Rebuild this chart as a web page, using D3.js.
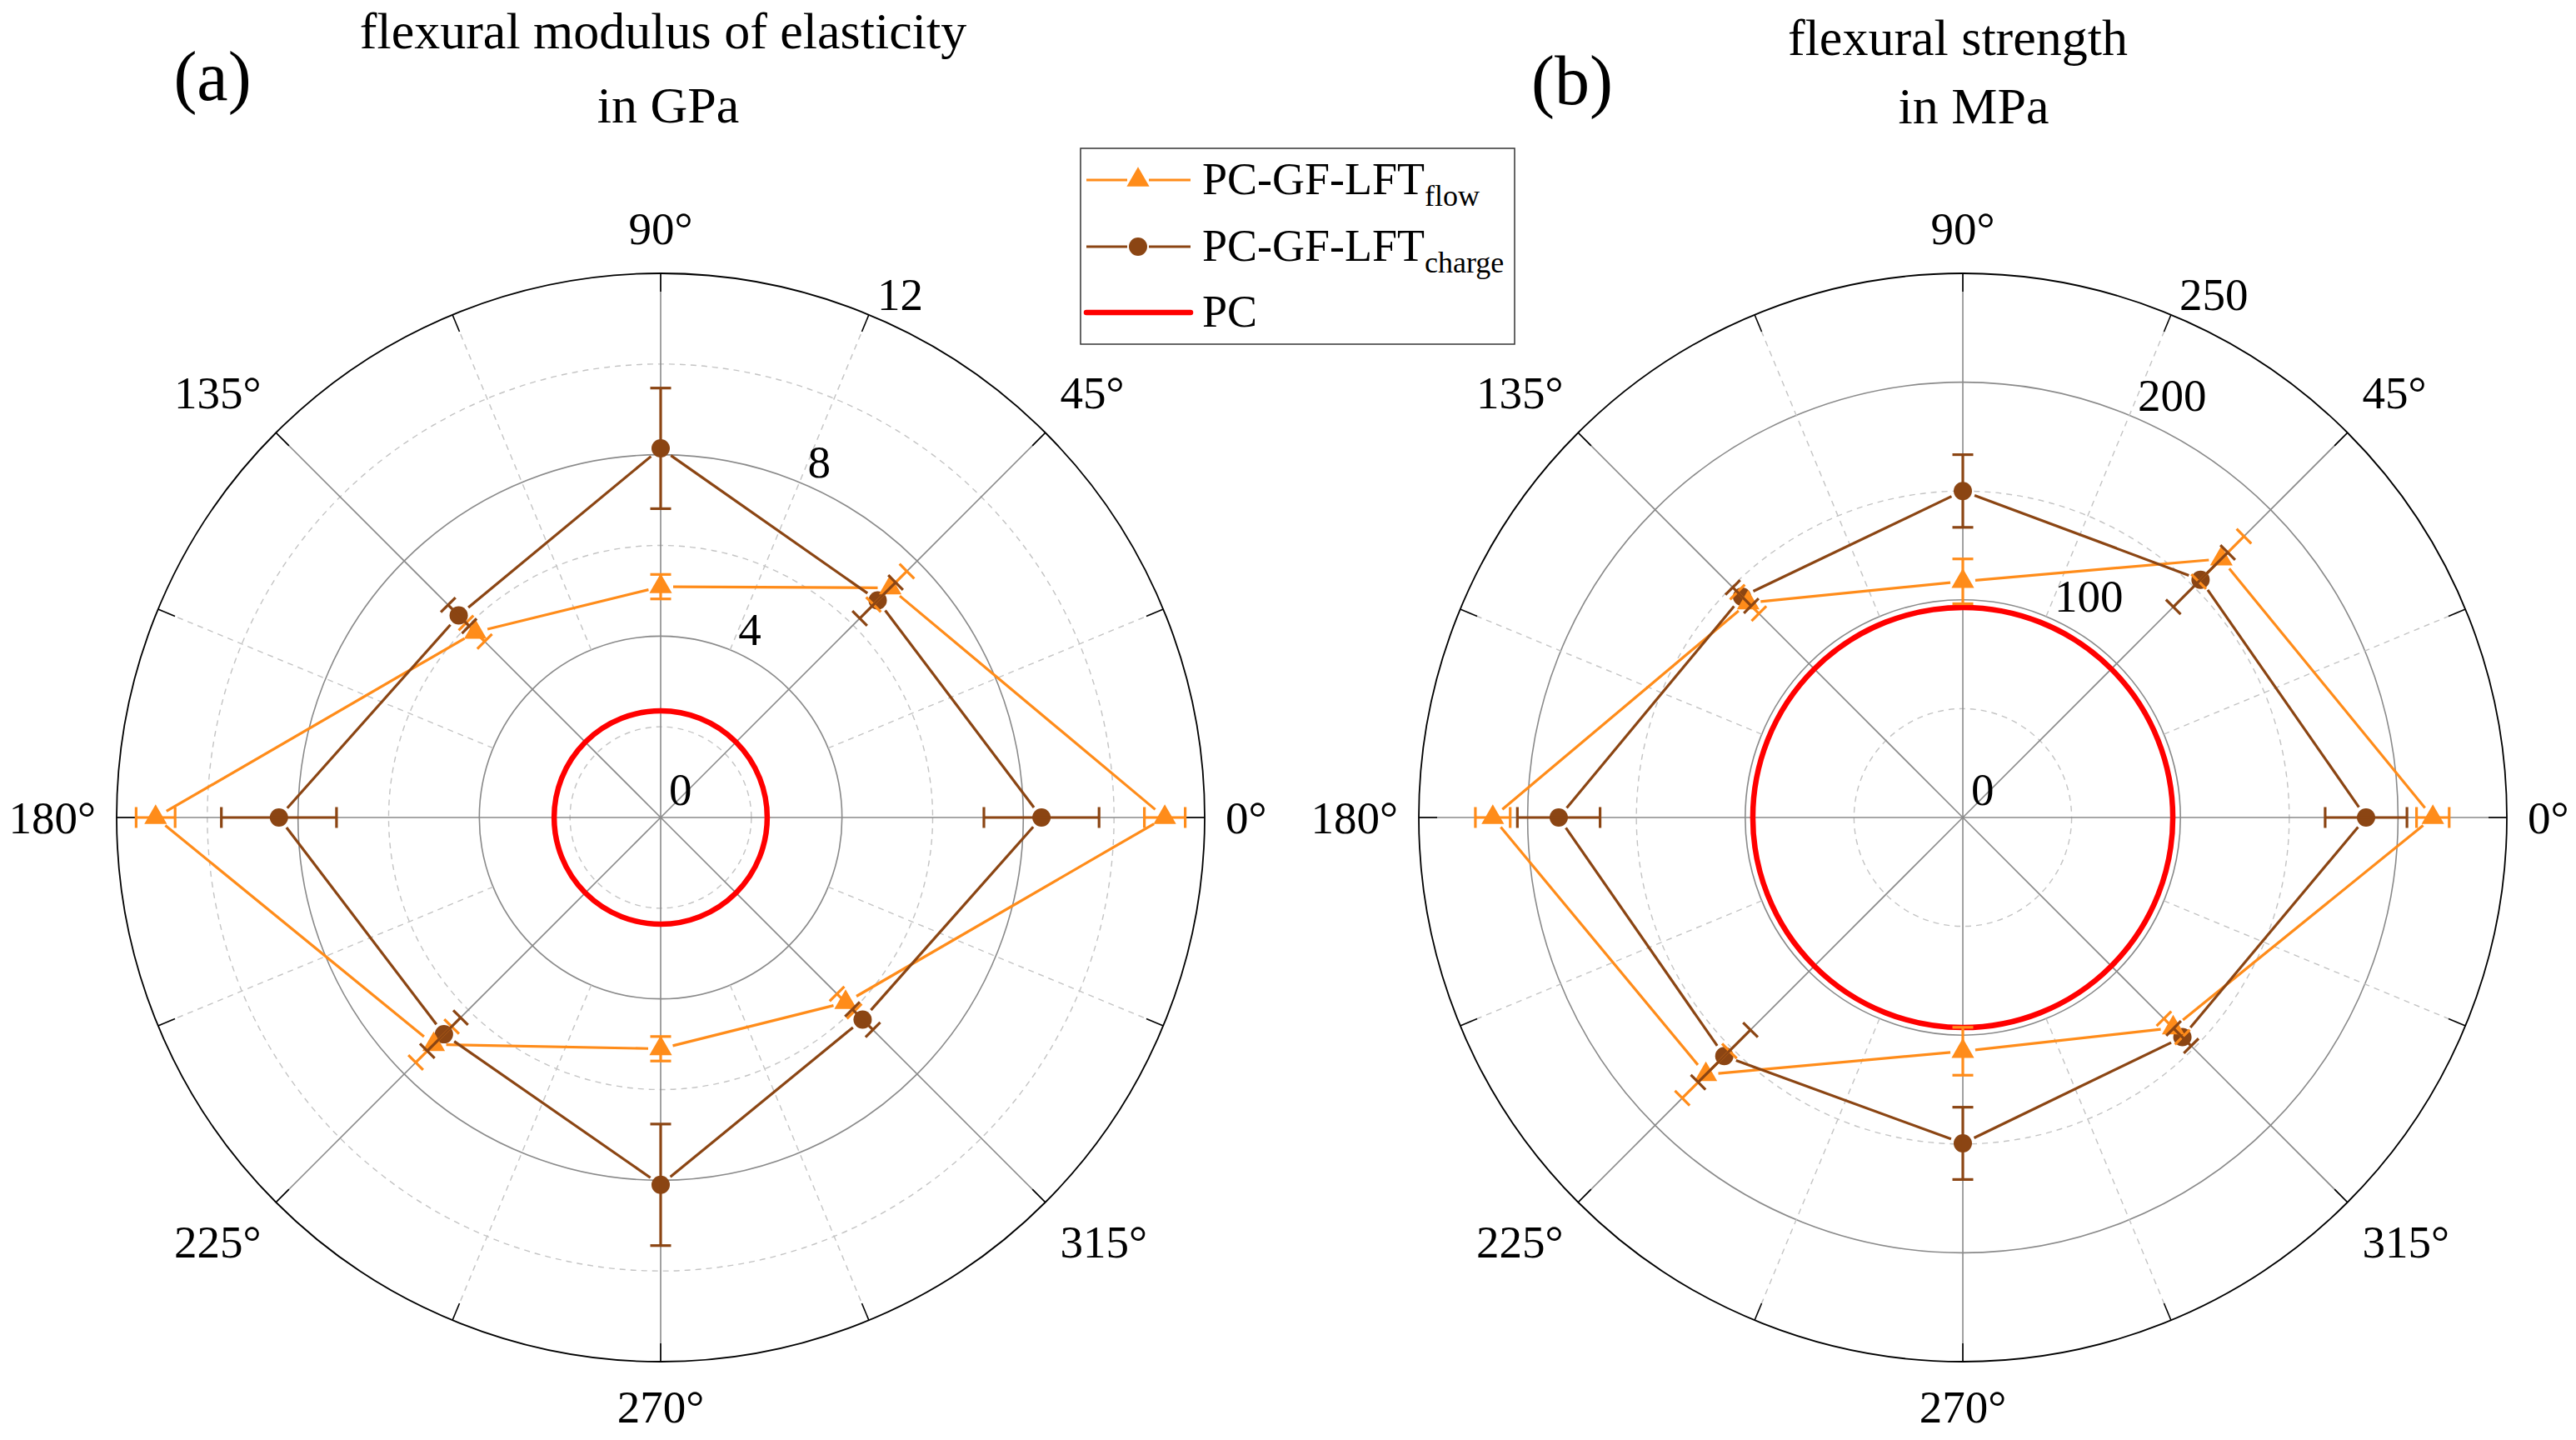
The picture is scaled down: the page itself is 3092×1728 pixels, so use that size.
<!DOCTYPE html>
<html>
<head>
<meta charset="utf-8">
<script src="https://cdn.jsdelivr.net/npm/d3@7"></script>
<style>
  body { margin: 0; background: #fff; overflow: hidden; }
  text { font-family: "Liberation Serif", "Times New Roman", serif; fill: #000; }
</style>
</head>
<body>
<svg id="chart" width="3092" height="1728"></svg>
<script>
// angles of the measured directions (degrees)
const angles = [0, 45, 90, 135, 180, 225, 270, 315];

// flexural modulus, GPa
const modFlow = [11.12, 7.16, 5.09, 5.78, 11.14, 7.08, 5.10, 5.77];
const modFlowErr = [0.45, 0.52, 0.27, 0.29, 0.43, 0.56, 0.27, 0.27];
const modCharge = [8.40, 6.77, 8.14, 6.30, 8.42, 6.76, 8.10, 6.30];
const modChargeErr = [1.27, 0.56, 1.33, 0.33, 1.27, 0.52, 1.34, 0.32];
const modPC = 2.35;
const modTicks = [0, 4, 8, 12];
const modMajor = [4, 8, 12];
const modMinor = [2, 6, 10];

// flexural strength, MPa
const strFlow = [216, 168, 108.5, 139.5, 216, 167, 107.4, 136.7];
const strFlowErr = [7.5, 14.7, 10.3, 7, 8, 15.3, 11, 6];
const strCharge = [185.3, 154.5, 150, 143.5, 185.7, 155, 149.7, 142.7];
const strChargeErr = [18.8, 17.7, 16.7, 6, 19, 17, 16.6, 5.7];
const strPC = 96.5;
const strTicks = [0, 100, 200, 250];
const strMajor = [100, 200, 250];
const strMinor = [50, 150];

const legendNames = [
  { main: 'PC-GF-LFT', sub: 'flow' },
  { main: 'PC-GF-LFT', sub: 'charge' },
  { main: 'PC', sub: '' }
];

const orange = '#ff8c1a';
const brown = '#8b4513';
const red = '#ff0000';
const R = 653;
const serif = '"Liberation Serif", "Times New Roman", serif';

const svg = d3.select('#chart');
svg.append('rect').attr('width', 3092).attr('height', 1728).attr('fill', '#fff');

const rad = a => a * Math.PI / 180;

function drawPanel(p) {
  const g = svg.append('g').attr('transform', `translate(${p.cx},${p.cy})`);
  const r = d3.scaleLinear().domain([0, p.max]).range([0, R]);
  const pt = (a, v) => [r(v) * Math.cos(rad(a)), -r(v) * Math.sin(rad(a))];

  // grid circles
  g.selectAll(null).data(p.minor).join('circle')
    .attr('r', d => r(d)).attr('fill', 'none')
    .attr('stroke', '#c4c4c4').attr('stroke-width', 1.4).attr('stroke-dasharray', '7,6');
  g.selectAll(null).data(p.major.filter(d => d < p.max)).join('circle')
    .attr('r', d => r(d)).attr('fill', 'none')
    .attr('stroke', '#8a8a8a').attr('stroke-width', 1.6);

  // spokes
  const spokes = d3.range(0, 360, 45);
  const minorSpokes = d3.range(22.5, 360, 45);
  g.selectAll(null).data(minorSpokes).join('line')
    .attr('x1', d => r(p.major[0]) * Math.cos(rad(d))).attr('y1', d => -r(p.major[0]) * Math.sin(rad(d)))
    .attr('x2', d => R * Math.cos(rad(d))).attr('y2', d => -R * Math.sin(rad(d)))
    .attr('stroke', '#c4c4c4').attr('stroke-width', 1.4).attr('stroke-dasharray', '7,6');
  g.selectAll(null).data(spokes).join('line')
    .attr('x1', 0).attr('y1', 0)
    .attr('x2', d => R * Math.cos(rad(d))).attr('y2', d => -R * Math.sin(rad(d)))
    .attr('stroke', '#8a8a8a').attr('stroke-width', 1.6);

  // outer ring and ticks
  g.append('circle').attr('r', R).attr('fill', 'none').attr('stroke', '#000').attr('stroke-width', 1.8);
  g.selectAll(null).data(spokes.concat(minorSpokes)).join('line')
    .attr('x1', d => (R - 22) * Math.cos(rad(d))).attr('y1', d => -(R - 22) * Math.sin(rad(d)))
    .attr('x2', d => R * Math.cos(rad(d))).attr('y2', d => -R * Math.sin(rad(d)))
    .attr('stroke', '#000').attr('stroke-width', 1.6);

  // angle labels
  g.selectAll(null).data(spokes).join('text')
    .attr('font-family', serif)
    .attr('font-size', 55)
    .attr('dominant-baseline', 'central')
    .attr('text-anchor', d => Math.abs(Math.cos(rad(d))) < 0.01 ? 'middle' : (Math.cos(rad(d)) > 0 ? 'start' : 'end'))
    .attr('x', d => Math.abs(Math.cos(rad(d))) < 0.01 ? 0 : (R + 25) * Math.cos(rad(d)))
    .attr('y', d => -Math.sin(rad(d)) * (R + 54 + 14 * Math.abs(Math.sin(rad(2 * d)))))
    .text(d => `${d}°`);

  // radial tick labels
  const la = rad(67.5);
  g.selectAll(null).data(p.ticks).join('text')
    .attr('font-family', serif)
    .attr('font-size', 55)
    .attr('dominant-baseline', 'central')
    .attr('x', d => r(d) * Math.cos(la) + 10)
    .attr('y', d => -r(d) * Math.sin(la) - (d === 0 ? 34 : 24))
    .text(d => d);

  // PC reference circle
  g.append('circle').attr('r', r(p.pc)).attr('fill', 'none')
    .attr('stroke', red).attr('stroke-width', 6.5);

  // connecting lines with small gaps at markers
  function lines(vals, color) {
    const pts = angles.map((a, i) => pt(a, vals[i]));
    const segs = pts.map((s, i) => {
      const e = pts[(i + 1) % pts.length];
      const dx = e[0] - s[0], dy = e[1] - s[1];
      const len = Math.hypot(dx, dy), gap = 15;
      return [s[0] + dx * gap / len, s[1] + dy * gap / len, e[0] - dx * gap / len, e[1] - dy * gap / len];
    });
    g.selectAll(null).data(segs).join('line')
      .attr('x1', d => d[0]).attr('y1', d => d[1]).attr('x2', d => d[2]).attr('y2', d => d[3])
      .attr('stroke', color).attr('stroke-width', 3.2);
  }
  function markers(vals, color, type, size) {
    g.selectAll(null).data(angles.map((a, i) => pt(a, vals[i]))).join('path')
      .attr('transform', d => `translate(${d[0]},${d[1]})`)
      .attr('d', d3.symbol().type(type).size(size))
      .attr('fill', color);
  }
  function errorBars(vals, errs, color) {
    const cap = 12.5;
    angles.forEach((a, i) => {
      const lo = pt(a, vals[i] - errs[i]);
      const hi = pt(a, vals[i] + errs[i]);
      const px = Math.sin(rad(a)) * cap, py = Math.cos(rad(a)) * cap;
      const eg = g.append('g').attr('stroke', color).attr('stroke-width', 3.2);
      eg.append('line').attr('x1', lo[0]).attr('y1', lo[1]).attr('x2', hi[0]).attr('y2', hi[1]);
      [lo, hi].forEach(c => eg.append('line')
        .attr('x1', c[0] - px).attr('y1', c[1] - py)
        .attr('x2', c[0] + px).attr('y2', c[1] + py));
    });
  }

  lines(p.flow, orange);
  lines(p.charge, brown);
  markers(p.charge, brown, d3.symbolCircle, 380);
  markers(p.flow, orange, d3.symbolTriangle, 320);
  errorBars(p.flow, p.flowErr, orange);
  errorBars(p.charge, p.chargeErr, brown);

  // titles
  svg.append('text').attr('font-family', serif).attr('x', p.t1x).attr('y', p.t1y).attr('font-size', 62)
    .attr('text-anchor', 'middle').text(p.title[0]);
  svg.append('text').attr('font-family', serif).attr('x', p.t2x).attr('y', p.t2y).attr('font-size', 62)
    .attr('text-anchor', 'middle').text(p.title[1]);
  svg.append('text').attr('font-family', serif).attr('x', p.lx).attr('y', p.ly).attr('font-size', 84)
    .attr('text-anchor', 'middle').text(p.letter);
}

drawPanel({
  cx: 793, cy: 981, max: 12, major: modMajor, minor: modMinor, ticks: modTicks,
  flow: modFlow, flowErr: modFlowErr, charge: modCharge, chargeErr: modChargeErr, pc: modPC,
  title: ['flexural modulus of elasticity', 'in GPa'],
  t1x: 796, t1y: 58, t2x: 802, t2y: 147, letter: '(a)', lx: 255, ly: 120
});
drawPanel({
  cx: 2356, cy: 981, max: 250, major: strMajor, minor: strMinor, ticks: strTicks,
  flow: strFlow, flowErr: strFlowErr, charge: strCharge, chargeErr: strChargeErr, pc: strPC,
  title: ['flexural strength', 'in MPa'],
  t1x: 2350, t1y: 66, t2x: 2369, t2y: 148, letter: '(b)', lx: 1887, ly: 125
});

// legend
const lg = svg.append('g');
lg.append('rect').attr('x', 1297).attr('y', 178).attr('width', 521).attr('height', 235)
  .attr('fill', '#fff').attr('stroke', '#333').attr('stroke-width', 1.5);
const rowY = [216, 296, 375];
const legendStyle = [
  { color: orange, width: 3, symbol: d3.symbolTriangle, size: 320 },
  { color: brown, width: 3, symbol: d3.symbolCircle, size: 380 },
  { color: red, width: 6.5, symbol: null }
];
legendNames.forEach((n, i) => {
  const s = legendStyle[i], y = rowY[i];
  if (s.symbol) {
    lg.append('line').attr('x1', 1304).attr('x2', 1353).attr('y1', y).attr('y2', y)
      .attr('stroke', s.color).attr('stroke-width', s.width);
    lg.append('line').attr('x1', 1379).attr('x2', 1429).attr('y1', y).attr('y2', y)
      .attr('stroke', s.color).attr('stroke-width', s.width);
    lg.append('path').attr('transform', `translate(1366,${y})`)
      .attr('d', d3.symbol().type(s.symbol).size(s.size)).attr('fill', s.color);
  } else {
    lg.append('line').attr('x1', 1304).attr('x2', 1429).attr('y1', y).attr('y2', y)
      .attr('stroke', s.color).attr('stroke-width', s.width).attr('stroke-linecap', 'round');
  }
  const t = lg.append('text').attr('font-family', serif).attr('x', 1443).attr('y', y + 17).attr('font-size', 54);
  t.append('tspan').text(n.main);
  if (n.sub) t.append('tspan').attr('font-size', 36).attr('dy', 14).text(n.sub);
});
</script>
</body>
</html>
